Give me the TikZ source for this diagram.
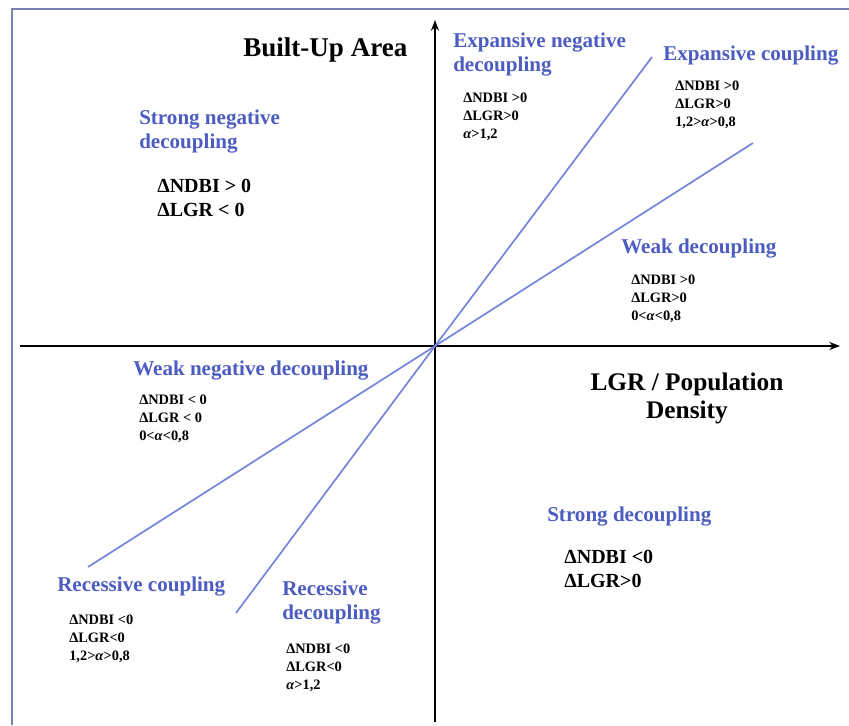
\documentclass[tikz,border=0pt]{standalone}
\usepackage{fontspec}
\setmainfont{Liberation Serif}
\usetikzlibrary{arrows.meta}
\definecolor{zoneblue}{RGB}{76,92,192}
\definecolor{lineblue}{RGB}{118,134,218}
\definecolor{framegray}{RGB}{120,128,175}
\newcommand{\alp}{\textit{α}}
\begin{document}
\begin{tikzpicture}[
    x=0.75pt, y=-0.75pt,
    zone/.style={anchor=west, align=left, inner sep=0pt, text=zoneblue,
                 font=\bfseries\fontsize{15.8}{18}\selectfont},
    cond/.style={anchor=west, align=left, inner sep=0pt,
                 font=\bfseries\fontsize{10.8}{13.4}\selectfont},
    bigcond/.style={anchor=west, align=left, inner sep=0pt,
                 font=\bfseries\fontsize{15}{18}\selectfont},
    axislabel/.style={inner sep=0pt, align=center,
                 font=\bfseries\fontsize{#1}{21}\selectfont},
    axis/.style={-{Stealth[length=8pt,width=6pt]}, line width=1.6pt},
    split/.style={lineblue, line width=1.3pt}
]
\useasboundingbox (0,0) rectangle (849,725);
% frame
\draw[framegray, line width=1.6pt] (12,725) -- (12,9) -- (849,9);

% axes
\coordinate (o) at (435,346);
\coordinate (xs) at (20,346);
\coordinate (xe) at (840,346);
\coordinate (ys) at (435,722);
\coordinate (ye) at (435,20);
\draw[axis] (xs) -- (xe);
\draw[axis] (ys) -- (ye);

% dividing lines
\coordinate (steepup) at (652,57);
\coordinate (steepdown) at (236,613);
\coordinate (flatup) at (753,143);
\coordinate (flatdown) at (88,567);
\draw[split] (steepdown) -- (o) -- (steepup);
\draw[split] (flatdown) -- (o) -- (flatup);

\node[axislabel=20.3, anchor=west] (yname) at (243,50) {Built-Up Area};
\node[axislabel=19] (xname) at (687,398) {LGR / Population\\Density};

% zones
\node[zone] (expneg) at (453,55) {Expansive negative\\decoupling};
\node[cond] (expnegc) at (463,117) {ΔNDBI >0\\ΔLGR>0\\\alp>1,2};

\node[zone] (expcpl) at (663,56) {Expansive coupling};
\node[cond] (expcplc) at (675,105) {ΔNDBI >0\\ΔLGR>0\\1,2>\alp>0,8};

\node[zone] (strneg) at (139,132) {Strong negative\\decoupling};
\node[bigcond] (strnegc) at (157,198) {ΔNDBI > 0\\ΔLGR < 0};

\node[zone] (weak) at (621,249) {Weak decoupling};
\node[cond] (weakc) at (631,299) {ΔNDBI >0\\ΔLGR>0\\0<\alp<0,8};

\node[zone] (weakneg) at (133,371) {Weak negative decoupling};
\node[cond] (weaknegc) at (139,419) {ΔNDBI < 0\\ΔLGR < 0\\0<\alp<0,8};

\node[zone] (reccpl) at (57,587) {Recessive coupling};
\node[cond] (reccplc) at (69,639) {ΔNDBI <0\\ΔLGR<0\\1,2>\alp>0,8};

\node[zone] (recdec) at (282,603) {Recessive\\decoupling};
\node[cond] (recdecc) at (286,668) {ΔNDBI <0\\ΔLGR<0\\\alp>1,2};

\node[zone] (strong) at (547,517) {Strong decoupling};
\node[bigcond] (strongc) at (564,569) {ΔNDBI <0\\ΔLGR>0};
\end{tikzpicture}
\end{document}
